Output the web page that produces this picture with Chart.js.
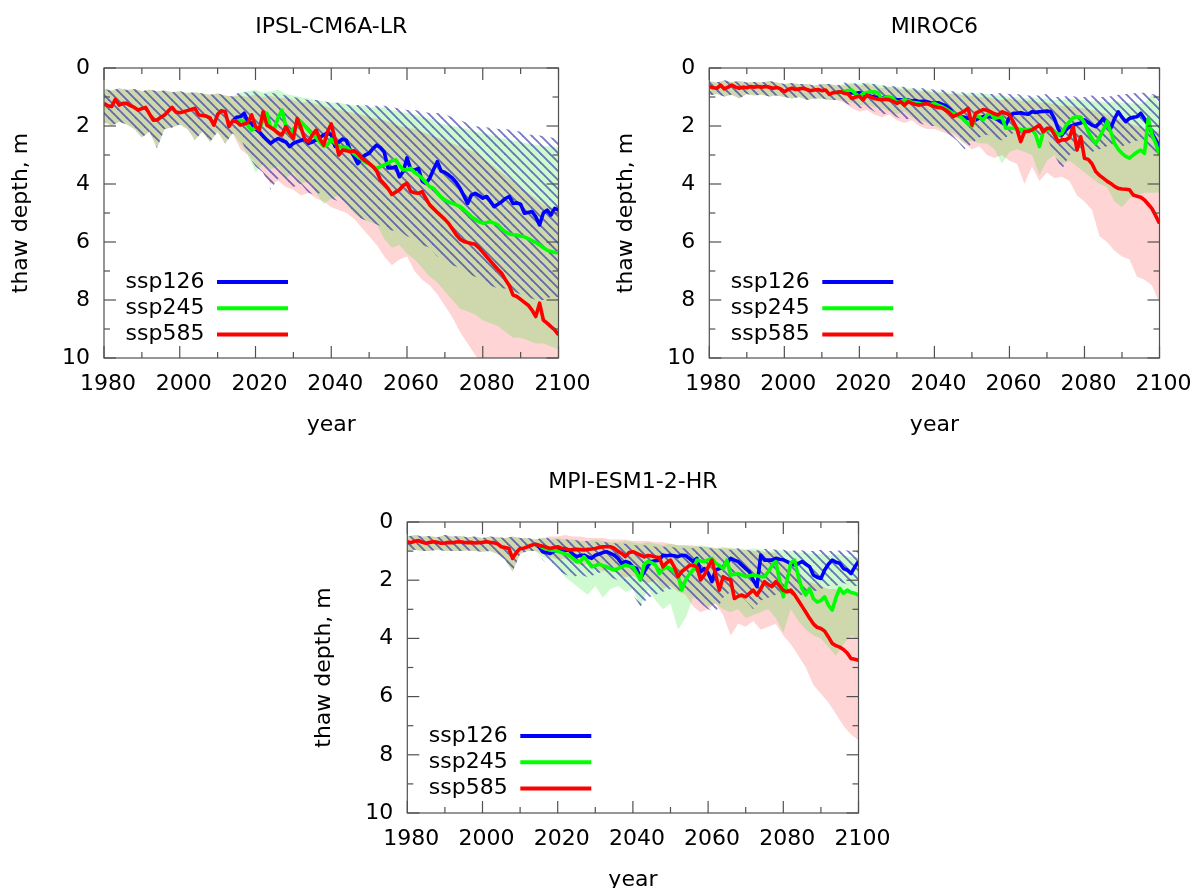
<!DOCTYPE html>
<html>
<head>
<meta charset="utf-8">
<title>thaw depth</title>
<script src="https://cdn.jsdelivr.net/npm/chart.js@4/dist/chart.umd.min.js"></script>
<style>
html, body { margin: 0; padding: 0; background: #fff; width: 1201px; height: 888px; overflow: hidden; }
canvas { position: absolute; }
</style>
</head>
<body>
<canvas id="c1" width="600" height="444" style="left:0px;top:0px"></canvas>
<canvas id="c2" width="601" height="444" style="left:600px;top:0px"></canvas>
<canvas id="c3" width="600" height="455" style="left:300px;top:444px"></canvas>
<script>
// ---- data (thaw depth, m) ----
var seriesNames = ['ssp126', 'ssp245', 'ssp585'];
var xTicks = [1980, 2000, 2020, 2040, 2060, 2080, 2100];
var yTicks = [0, 2, 4, 6, 8, 10];

// IPSL-CM6A-LR, yearly 1980..2100 (historical + ssp585)
var ipslRed = [
  1.22, 1.30, 1.33, 1.08, 1.28, 1.22, 1.22, 1.30, 1.36, 1.45,
  1.40, 1.36, 1.58, 1.80, 1.79, 1.70, 1.62, 1.48, 1.36, 1.52,
  1.54, 1.51, 1.47, 1.43, 1.39, 1.62, 1.64, 1.66, 1.72, 1.97,
  1.60, 1.47, 1.51, 2.02, 1.82, 1.85, 1.97, 1.93, 1.88, 1.62,
  2.02, 2.14, 1.51, 1.97, 2.05, 2.14, 2.25, 2.31, 2.02, 2.25,
  2.43, 1.74, 2.05, 2.45, 2.54, 2.31, 2.14, 2.45, 2.66, 2.20,
  1.93, 2.45, 3.00, 2.83, 2.85, 2.89, 2.85, 2.95, 3.10, 3.20,
  3.29, 3.40, 3.55, 3.86, 4.00, 4.15, 4.36, 4.28, 4.20, 4.05,
  3.98, 4.26, 4.30, 4.32, 4.26, 4.50, 4.72, 4.85, 4.98, 5.10,
  5.22, 5.36, 5.55, 5.75, 5.90, 5.98, 6.02, 6.05, 6.08, 6.20,
  6.35, 6.50, 6.65, 6.80, 6.95, 7.08, 7.30, 7.50, 7.83, 7.88,
  7.98, 8.08, 8.18, 8.35, 8.57, 8.11, 8.69, 8.80, 8.92, 9.03,
  9.20];
// yearly 2015..2100
var ipslBlue = [
  1.70, 1.68, 1.56, 1.85, 1.90,
  2.10, 2.20, 2.35, 2.48, 2.60, 2.50, 2.43, 2.50, 2.55, 2.71,
  2.60, 2.54, 2.50, 2.45, 2.60, 2.55, 2.48, 2.40, 2.31, 2.25,
  2.30, 2.70, 2.55, 2.45, 2.50, 2.83, 3.05, 3.30, 3.10, 3.00,
  2.94, 2.78, 2.66, 2.75, 2.90, 3.45, 3.45, 3.40, 3.75, 3.57,
  3.10, 3.50, 3.52, 3.46, 3.90, 3.98, 3.80, 3.50, 3.23, 3.55,
  3.60, 3.69, 3.80, 3.95, 4.15, 4.40, 4.67, 4.38, 4.32, 4.40,
  4.49, 4.43, 4.60, 4.78, 4.70, 4.61, 4.50, 4.43, 4.67, 4.65,
  4.70, 5.01, 4.98, 4.95, 5.13, 5.41, 5.00, 4.90, 5.07, 4.84,
  4.90];
var ipslGreen = [
  1.85, 1.80, 1.85, 2.00, 2.15,
  2.05, 2.10, 1.80, 1.56, 2.05, 2.10, 1.70, 1.45, 2.00, 2.30,
  2.10, 2.00, 1.85, 2.00, 2.15, 2.30, 2.40, 2.55, 2.70, 2.65,
  2.45, 2.60, 2.70, 2.75, 2.72, 2.85, 2.95, 3.06, 3.15, 3.25,
  3.30, 3.40, 3.46, 3.40, 3.34, 3.28, 3.20, 3.17, 3.35, 3.52,
  3.50, 3.46, 3.60, 3.69, 3.80, 3.95, 4.09, 4.15, 4.30, 4.45,
  4.55, 4.62, 4.67, 4.72, 4.78, 4.88, 5.00, 5.13, 5.22, 5.30,
  5.35, 5.33, 5.30, 5.35, 5.41, 5.55, 5.65, 5.72, 5.75, 5.76,
  5.80, 5.82, 5.88, 5.95, 6.02, 6.10, 6.20, 6.28, 6.33, 6.36,
  6.37];
// ranges, every 2 years: historical 1980..2014, scenarios 2016..2100
var ipslHistTop = [0.72, 0.78, 0.70, 0.76, 0.72, 0.80, 0.74, 0.80, 0.78, 0.84, 0.80, 0.86, 0.84, 0.88, 0.92, 0.88, 0.95, 0.98];
var ipslHistBot = [1.85, 2.00, 1.85, 1.95, 2.10, 2.40, 2.20, 2.77, 2.10, 2.05, 1.95, 2.10, 2.48, 2.20, 2.55, 2.20, 2.60, 2.25];
var ipsl585Top = [0.95, 1.00, 0.90, 1.00, 0.95, 1.05, 1.00, 1.10, 1.20, 1.15, 1.25, 1.30, 1.40, 1.45, 1.50, 1.55, 1.60,
  1.70, 1.75, 1.80, 1.90, 2.00, 2.05, 2.10, 2.20, 2.30, 2.40, 2.50, 2.60, 2.70, 2.80, 2.90,
  3.10, 3.30, 3.50, 3.70, 3.90, 4.10, 4.30, 4.50, 4.70, 4.80, 4.90];
var ipsl585Bot = [2.80, 3.00, 3.30, 3.60, 4.00, 3.90, 4.10, 4.20, 4.40, 4.30, 4.50, 4.60, 4.80, 4.90, 5.00, 5.20, 5.50,
  5.80, 6.10, 6.50, 6.80, 6.60, 6.50, 7.00, 7.30, 7.50, 7.80, 8.20, 8.60, 9.10, 9.50, 9.90,
  10.3, 10.5, 10.8, 11.0, 11.2, 11.4, 11.6, 11.8, 12.0, 12.0, 12.0];
var ipsl245Top = [0.85, 0.80, 0.75, 0.85, 0.80, 0.75, 0.90, 0.95, 1.00, 1.05, 1.10, 1.15, 1.20, 1.20, 1.25, 1.30, 1.30,
  1.35, 1.35, 1.35, 1.45, 1.50, 1.55, 1.60, 1.70, 1.75, 1.85, 1.95, 2.00, 2.05, 2.10, 2.20,
  2.25, 2.30, 2.40, 2.45, 2.50, 2.55, 2.60, 2.65, 2.70, 2.70, 2.75];
var ipsl245Bot = [2.60, 3.00, 3.60, 3.30, 3.50, 3.40, 3.80, 3.60, 4.00, 3.90, 4.30, 4.70, 4.50, 4.40, 4.70, 5.00, 5.20,
  5.30, 5.40, 5.90, 6.20, 6.10, 6.40, 6.60, 6.90, 7.20, 7.40, 7.70, 8.00, 8.30, 8.40, 8.50,
  8.70, 8.80, 8.90, 9.10, 9.30, 9.30, 9.40, 9.50, 9.50, 9.60, 9.70];
var ipsl126Top = [0.80, 0.85, 0.80, 0.90, 0.85, 0.90, 0.95, 1.00, 1.05, 1.10, 1.10, 1.15, 1.20, 1.20, 1.25, 1.30, 1.25,
  1.30, 1.30, 1.30, 1.35, 1.40, 1.45, 1.45, 1.50, 1.55, 1.55, 1.60, 1.70, 1.80, 1.90, 2.00,
  2.05, 2.05, 2.10, 2.10, 2.15, 2.20, 2.30, 2.30, 2.35, 2.40, 2.45];
var ipsl126Bot = [2.40, 3.00, 3.40, 3.60, 4.20, 3.80, 4.00, 4.10, 4.00, 4.30, 4.40, 4.20, 4.50, 4.60, 4.80, 5.00, 5.20,
  5.30, 5.40, 5.50, 5.60, 5.60, 5.80, 5.90, 6.10, 6.20, 6.50, 6.60, 6.80, 6.90, 7.10, 7.20,
  7.30, 7.50, 7.60, 7.60, 7.70, 7.80, 7.90, 8.00, 8.00, 7.90, 7.90];

// MIROC6
var mirocRed = [
  0.64, 0.68, 0.70, 0.59, 0.72, 0.66, 0.59, 0.66, 0.70, 0.66,
  0.68, 0.64, 0.66, 0.64, 0.66, 0.64, 0.66, 0.70, 0.67, 0.72,
  0.82, 0.74, 0.70, 0.74, 0.72, 0.70, 0.74, 0.78, 0.76, 0.74,
  0.78, 0.76, 0.91, 0.85, 0.84, 0.82, 0.87, 0.90, 1.05, 1.00,
  0.97, 1.10, 0.93, 1.00, 1.05, 1.08, 1.10, 1.08, 1.10, 1.15,
  1.22, 1.16, 1.28, 1.16, 1.22, 1.26, 1.28, 1.25, 1.22, 1.28,
  1.33, 1.36, 1.38, 1.45, 1.55, 1.68, 1.62, 1.56, 1.48, 1.39,
  1.97, 1.56, 1.50, 1.43, 1.46, 1.51, 1.58, 1.62, 1.51, 1.56,
  1.62, 1.85, 2.10, 2.54, 2.20, 2.18, 2.14, 2.05, 1.97, 2.20,
  2.08, 2.08, 2.30, 2.54, 2.48, 2.48, 2.40, 2.02, 2.83, 2.37,
  3.11, 3.15, 3.30, 3.57, 3.70, 3.80, 3.90, 3.98, 4.08, 4.15,
  4.17, 4.18, 4.20, 4.38, 4.42, 4.46, 4.55, 4.70, 4.85, 5.10,
  5.36];
var mirocBlue = [
  0.82, 0.85, 0.86, 0.85, 0.88,
  0.85, 0.92, 0.95, 0.97, 1.00, 1.02, 1.05, 1.00, 1.03, 1.08,
  1.10, 1.10, 1.12, 1.10, 1.14, 1.12, 1.16, 1.15, 1.16, 1.20,
  1.22, 1.20, 1.25, 1.30, 1.40, 1.56, 1.62, 1.68, 1.70, 1.74,
  1.77, 1.79, 1.72, 1.68, 1.66, 1.68, 1.72, 1.79, 1.88, 1.97,
  1.70, 1.56, 1.56, 1.54, 1.58, 1.59, 1.51, 1.53, 1.51, 1.50,
  1.48, 1.51, 1.75, 2.10, 2.31, 2.14, 2.02, 1.97, 1.93, 1.90,
  1.79, 1.88, 1.97, 2.02, 1.90, 1.74, 1.95, 2.08, 1.75, 1.51,
  1.70, 1.85, 1.74, 1.70, 1.68, 1.56, 1.75, 1.95, 2.25, 2.48,
  2.71];
var mirocGreen = [
  0.84, 0.80, 0.78, 0.76, 0.90,
  0.98, 0.88, 0.85, 0.83, 0.82, 0.85, 1.10, 1.00, 1.00, 1.05,
  1.20, 1.15, 1.10, 1.12, 1.18, 1.20, 1.22, 1.25, 1.24, 1.26,
  1.22, 1.28, 1.33, 1.40, 1.48, 1.56, 1.62, 1.68, 1.80, 1.92,
  2.02, 1.62, 1.70, 1.79, 1.62, 1.56, 1.74, 1.70, 1.68, 2.08,
  2.08, 2.08, 2.10, 2.12, 2.14, 2.12, 2.11, 2.30, 2.71, 2.20,
  2.14, 2.14, 2.20, 2.31, 2.25, 2.00, 1.85, 1.72, 1.68, 1.70,
  1.90, 2.20, 2.43, 2.60, 2.40, 2.14, 1.85, 2.20, 2.60, 2.80,
  2.94, 3.05, 3.11, 3.00, 2.90, 2.83, 2.94, 1.74, 2.30, 2.60,
  3.00];
var mirocHistTop = [0.45, 0.50, 0.42, 0.48, 0.45, 0.50, 0.48, 0.50, 0.45, 0.50, 0.55, 0.52, 0.55, 0.55, 0.60, 0.55, 0.55, 0.60];
var mirocHistBot = [0.95, 0.90, 0.98, 0.92, 1.05, 0.90, 0.95, 0.92, 0.98, 0.95, 1.00, 1.05, 1.00, 1.10, 1.05, 1.05, 1.10, 1.10];
var miroc585Top = [0.60, 0.55, 0.60, 0.55, 0.65, 0.70, 0.65, 0.70, 0.75, 0.75, 0.80, 0.80, 0.85, 0.85, 0.90, 0.90, 0.95,
  0.95, 1.00, 1.00, 1.05, 1.10, 1.05, 1.10, 1.15, 1.10, 1.20, 1.20, 1.25, 1.30, 1.30, 1.35,
  1.40, 1.45, 1.50, 1.60, 1.70, 1.80, 1.90, 2.00, 2.10, 2.15, 2.20];
var miroc585Bot = [1.20, 1.40, 1.50, 1.45, 1.60, 1.70, 1.60, 1.80, 1.90, 1.80, 2.00, 2.10, 2.10, 2.20, 2.30, 2.40, 2.60,
  2.80, 2.70, 3.00, 3.10, 3.00, 3.20, 3.30, 4.00, 3.40, 3.90, 3.60, 3.80, 3.75, 3.90, 4.40,
  4.60, 4.90, 5.80, 6.00, 6.30, 6.50, 6.60, 7.20, 7.30, 7.50, 8.10];
var miroc245Top = [0.55, 0.50, 0.55, 0.50, 0.55, 0.60, 0.65, 0.65, 0.70, 0.70, 0.75, 0.75, 0.80, 0.80, 0.85, 0.85, 0.90,
  0.85, 0.90, 0.90, 0.95, 0.95, 1.00, 1.00, 1.05, 1.00, 1.05, 1.05, 1.10, 1.10, 1.05, 1.10,
  1.10, 1.15, 1.15, 1.20, 1.15, 1.20, 1.20, 1.25, 1.20, 0.90, 1.25];
var miroc245Bot = [1.10, 1.20, 1.30, 1.25, 1.35, 1.40, 1.50, 1.60, 1.50, 1.70, 1.80, 1.90, 2.00, 2.10, 2.20, 2.30, 2.60,
  2.50, 2.60, 2.60, 2.80, 3.30, 2.90, 2.80, 2.90, 3.00, 3.70, 3.20, 3.00, 3.30, 3.20, 3.40,
  3.60, 3.80, 4.00, 4.10, 4.60, 4.80, 4.50, 4.40, 4.30, 4.30, 4.30];
var miroc126Top = [0.50, 0.55, 0.50, 0.55, 0.55, 0.60, 0.60, 0.65, 0.65, 0.70, 0.70, 0.70, 0.75, 0.75, 0.80, 0.80, 0.85,
  0.85, 0.85, 0.90, 0.90, 0.85, 0.90, 0.90, 0.95, 0.95, 0.95, 0.90, 1.00, 1.00, 0.95, 1.00,
  1.00, 0.95, 1.00, 1.00, 0.95, 0.90, 0.90, 0.85, 0.85, 0.90, 0.95];
var miroc126Bot = [1.20, 1.30, 1.40, 1.35, 1.50, 1.60, 1.55, 1.70, 1.80, 1.70, 1.90, 2.00, 2.00, 2.10, 2.30, 2.50, 2.80,
  2.60, 2.40, 2.30, 2.40, 2.50, 2.30, 2.20, 2.30, 2.20, 2.30, 2.40, 3.00, 3.50, 3.00, 2.80,
  2.70, 2.90, 2.80, 2.70, 2.60, 2.70, 2.60, 2.50, 2.60, 2.80, 3.00];

// MPI-ESM1-2-HR
var mpiRed = [
  0.68, 0.71, 0.66, 0.64, 0.70, 0.73, 0.70, 0.68, 0.70, 0.73,
  0.72, 0.70, 0.71, 0.69, 0.68, 0.70, 0.71, 0.70, 0.72, 0.71,
  0.70, 0.68, 0.70, 0.71, 0.75, 0.85, 0.88, 0.91, 1.25, 1.05,
  0.91, 0.90, 0.85, 0.80, 0.76, 0.80, 0.83, 0.87, 0.91, 0.88,
  0.85, 0.90, 0.91, 0.96, 0.95, 0.94, 0.95, 0.96, 0.94, 0.93,
  0.91, 0.88, 0.85, 0.85, 0.85, 0.90, 1.00, 1.08, 1.19, 1.05,
  1.02, 1.08, 1.14, 1.20, 1.15, 1.17, 1.20, 1.22, 1.54, 1.40,
  1.31, 1.54, 1.88, 1.70, 1.60, 1.50, 1.48, 1.54, 1.99, 1.82,
  1.55, 1.31, 1.80, 2.34, 1.88, 1.95, 1.99, 2.63, 2.55, 2.51,
  2.57, 2.45, 2.34, 2.51, 2.30, 2.05, 2.15, 2.22, 2.05, 2.20,
  2.35, 2.40, 2.34, 2.50, 2.70, 2.90, 3.10, 3.31, 3.50, 3.62,
  3.66, 3.75, 3.95, 4.17, 4.25, 4.30, 4.38, 4.50, 4.69, 4.72,
  4.75];
var mpiBlue = [
  0.85, 1.02, 1.05, 1.08, 1.00,
  0.96, 1.00, 0.98, 0.96, 1.10, 1.19, 1.15, 1.14, 1.20, 1.25,
  1.14, 1.10, 1.05, 1.02, 1.08, 1.14, 1.25, 1.42, 1.36, 1.40,
  1.54, 1.60, 1.94, 1.71, 1.50, 1.36, 1.33, 1.31, 1.14, 1.16,
  1.14, 1.16, 1.19, 1.14, 1.15, 1.25, 1.36, 1.25, 1.71, 1.60,
  1.75, 2.05, 1.65, 1.60, 1.54, 1.40, 1.25, 1.31, 1.36, 1.48,
  1.60, 1.71, 2.00, 2.22, 1.14, 1.31, 1.31, 1.31, 1.25, 1.28,
  1.30, 1.36, 1.42, 1.48, 1.42, 1.36, 1.45, 1.54, 1.82, 1.90,
  1.94, 1.65, 1.45, 1.31, 1.38, 1.42, 1.60, 1.65, 1.77, 1.55,
  1.36];
var mpiGreen = [
  0.80, 0.88, 0.92, 0.96, 0.98,
  1.00, 1.05, 1.10, 1.14, 1.25, 1.36, 1.36, 1.19, 1.36, 1.54,
  1.50, 1.45, 1.50, 1.54, 1.60, 1.65, 1.60, 1.54, 1.48, 1.52,
  1.54, 1.75, 2.00, 1.45, 1.36, 1.40, 1.48, 1.77, 1.62, 1.54,
  1.60, 1.70, 1.82, 2.34, 2.00, 1.80, 1.65, 1.31, 1.34, 1.36,
  1.30, 1.25, 1.42, 1.50, 1.60, 1.31, 1.82, 1.80, 1.78, 1.82,
  1.88, 1.85, 1.82, 1.85, 1.88, 1.88, 1.71, 1.50, 1.36, 2.00,
  2.57, 2.00, 1.40, 1.31, 1.88, 2.30, 2.51, 2.28, 2.63, 2.75,
  2.70, 2.57, 2.86, 3.03, 2.60, 2.28, 2.45, 2.34, 2.42, 2.45,
  2.51];
var mpiHistTop = [0.50, 0.45, 0.50, 0.48, 0.52, 0.45, 0.50, 0.48, 0.52, 0.50, 0.55, 0.50, 0.52, 0.55, 0.50, 0.55, 0.55, 0.60];
var mpiHistBot = [1.00, 0.95, 1.00, 1.00, 0.95, 1.00, 1.00, 1.00, 0.98, 1.00, 1.02, 1.00, 1.10, 1.30, 1.70, 1.10, 1.00, 1.00];
var mpi585Top = [0.55, 0.50, 0.50, 0.45, 0.50, 0.50, 0.55, 0.55, 0.55, 0.60, 0.60, 0.60, 0.65, 0.65, 0.65, 0.70, 0.70,
  0.75, 0.80, 0.80, 0.80, 0.85, 0.85, 0.90, 0.90, 0.90, 0.95, 0.95, 1.00, 1.00, 1.05, 1.05,
  1.30, 1.50, 1.80, 2.00, 2.10, 2.20, 2.30, 2.30, 2.40, 2.40, 2.50];
var mpi585Bot = [1.10, 1.20, 1.30, 1.25, 1.40, 1.50, 1.45, 1.60, 1.70, 1.60, 1.80, 1.90, 1.85, 2.00, 2.10, 2.00, 2.30,
  2.20, 2.40, 2.50, 2.90, 3.10, 3.00, 2.80, 3.20, 3.90, 3.50, 3.60, 3.40, 3.70, 3.60, 3.50,
  3.90, 4.20, 4.60, 5.00, 5.60, 5.90, 6.20, 6.60, 7.00, 7.30, 7.50];
var mpi245Top = [0.55, 0.60, 0.55, 0.60, 0.60, 0.65, 0.65, 0.60, 0.65, 0.70, 0.70, 0.65, 0.70, 0.75, 0.70, 0.75, 0.80,
  0.75, 0.80, 0.80, 0.85, 0.80, 0.85, 0.90, 0.85, 0.90, 0.90, 0.95, 0.90, 0.95, 1.00, 0.95,
  1.00, 1.00, 1.05, 1.05, 1.10, 1.10, 1.15, 1.10, 1.15, 1.20, 1.20];
var mpi245Bot = [1.20, 1.30, 1.50, 1.90, 2.10, 2.30, 2.50, 2.20, 2.60, 2.30, 2.20, 2.40, 2.30, 2.90, 2.30, 2.70, 3.00,
  2.80, 3.70, 3.30, 2.60, 2.70, 2.90, 2.80, 3.00, 3.10, 3.00, 3.30, 3.20, 3.10, 3.00, 3.30,
  3.80, 3.00, 3.40, 3.70, 3.90, 4.00, 4.30, 4.60, 4.20, 3.90, 4.00];
var mpi126Top = [0.55, 0.55, 0.60, 0.60, 0.60, 0.65, 0.65, 0.70, 0.70, 0.70, 0.75, 0.75, 0.80, 0.80, 0.80, 0.85, 0.85,
  0.85, 0.90, 0.90, 0.90, 0.85, 0.90, 0.90, 0.95, 0.95, 0.90, 0.95, 1.00, 0.95, 0.90, 0.95,
  0.95, 1.00, 0.95, 1.00, 1.00, 0.95, 1.00, 1.00, 0.95, 1.00, 1.00];
var mpi126Bot = [1.30, 1.50, 1.70, 1.80, 1.90, 1.80, 1.90, 1.80, 1.70, 1.90, 2.00, 2.20, 2.50, 2.90, 2.60, 2.50, 2.40,
  2.30, 2.40, 2.30, 2.60, 2.80, 3.00, 3.10, 2.60, 2.40, 2.50, 2.70, 3.00, 2.70, 2.60, 2.50,
  2.40, 2.50, 2.60, 2.40, 2.40, 2.30, 2.20, 2.20, 2.10, 2.20, 2.20];

// ---- helpers ----
var FONT = 'DejaVu Sans';
function range(a, b, step) { var r = []; for (var v = a; v <= b; v += step) r.push(v); return r; }
var yearsAll = range(1980, 2100, 1);
var yearsScen = range(2014, 2100, 1);
var yearsBand = range(1980, 2100, 2);
function pts(xs, ys) { return ys.map(function (v, i) { return { x: xs[i], y: v }; }); }

var lineColors = ['#0000ff', '#00ff00', '#ff0000'];

function hatchPattern() {
  var t = document.createElement('canvas');
  t.width = 9; t.height = 9;
  var c = t.getContext('2d');
  c.strokeStyle = 'rgba(20,30,160,0.6)';
  c.lineWidth = 1.8;
  for (var k = -1; k <= 1; k++) {
    c.beginPath();
    c.moveTo(-2, -2 + 9 * k);
    c.lineTo(11, 11 + 9 * k);
    c.stroke();
  }
  return document.getElementById('c1').getContext('2d').createPattern(t, 'repeat');
}

function edge(data, order) {
  return { data: data, borderWidth: 0, borderColor: 'rgba(0,0,0,0)', pointRadius: 0, fill: false, order: order };
}
function band(data, order, bg) {
  return { data: data, borderWidth: 0, borderColor: 'rgba(0,0,0,0)', pointRadius: 0, fill: '-1', backgroundColor: bg, order: order };
}
function line(label, data, color, order) {
  return { label: label, data: data, borderColor: color, borderWidth: 3.6, pointRadius: 0, fill: false,
    tension: 0, borderJoinStyle: 'round', order: order };
}

var framePlugin = {
  id: 'frame',
  afterDatasetsDraw: function (chart) {
    var a = chart.chartArea, ctx = chart.ctx, xs = chart.scales.x, ys = chart.scales.y;
    ctx.save();
    ctx.strokeStyle = '#505050';
    ctx.lineWidth = 1.2;
    function seg(x1, y1, x2, y2) { ctx.beginPath(); ctx.moveTo(x1, y1); ctx.lineTo(x2, y2); ctx.stroke(); }
    for (var yr = 1980; yr <= 2100; yr += 10) {
      var len = (yr % 20 === 0) ? 12 : 6, px = xs.getPixelForValue(yr);
      seg(px, a.bottom, px, a.bottom - len);
      seg(px, a.top, px, a.top + len);
    }
    for (var d = 0; d <= 10; d++) {
      var l2 = (d % 2 === 0) ? 12 : 6, py = ys.getPixelForValue(d);
      seg(a.left, py, a.left + l2, py);
      seg(a.right, py, a.right - l2, py);
    }
    ctx.strokeRect(a.left, a.top, a.right - a.left, a.bottom - a.top);
    ctx.restore();
  }
};

// legend inside the plot (text, then a line sample) and the panel heading
var keyPlugin = {
  id: 'key',
  afterDraw: function (chart, args, opts) {
    var a = chart.chartArea, ctx = chart.ctx;
    ctx.save();
    ctx.font = '22px "' + FONT + '"';
    ctx.fillStyle = '#000';
    ctx.textBaseline = 'middle';
    ctx.textAlign = 'center';
    ctx.fillText(opts.heading, (a.left + a.right) / 2, a.top - opts.headingGap);
    ctx.textAlign = 'left';
    for (var i = 0; i < seriesNames.length; i++) {
      var y = a.top + 214 + i * 26.3;
      ctx.fillText(seriesNames[i], a.left + 21.5, y);
      ctx.strokeStyle = lineColors[i];
      ctx.lineWidth = 4;
      ctx.beginPath();
      ctx.moveTo(a.left + 113, y);
      ctx.lineTo(a.left + 184, y);
      ctx.stroke();
    }
    ctx.restore();
  }
};

function makeChart(p) {
  var hatch = hatchPattern();
  var blueData = pts(yearsScen, [p.red[34]].concat(p.blue));
  var greenData = pts(yearsScen, [p.red[34]].concat(p.green));
  var datasets = [
    edge(pts(yearsBand, p.histBot.concat(p.bot585)), 10),
    band(pts(yearsBand, p.histTop.concat(p.top585)), 10, 'rgba(255,0,0,0.17)'),
    edge(pts(yearsBand, p.histBot.concat(p.bot245)), 9),
    band(pts(yearsBand, p.histTop.concat(p.top245)), 9, 'rgba(0,230,0,0.19)'),
    edge(pts(yearsBand, p.histBot.concat(p.bot126)), 8),
    band(pts(yearsBand, p.histTop.concat(p.top126)), 8, hatch),
    line(seriesNames[0], blueData, lineColors[0], 3),
    line(seriesNames[1], greenData, lineColors[1], 2),
    line(seriesNames[2], pts(yearsAll, p.red), lineColors[2], 1)
  ];
  var tickFont = { family: FONT, size: 22 };
  return new Chart(document.getElementById(p.id), {
    type: 'line',
    data: { datasets: datasets },
    options: {
      responsive: false,
      animation: false,
      events: [],
      layout: { padding: { left: p.padLeft, right: p.padRight, top: p.padTop, bottom: 0 } },
      plugins: {
        legend: { display: false },
        tooltip: { enabled: false },
        title: { display: false },
        key: { heading: p.title, headingGap: p.headingGap }
      },
      scales: {
        x: {
          type: 'linear', min: 1980, max: 2100,
          afterBuildTicks: function (s) { s.ticks = xTicks.map(function (v) { return { value: v }; }); },
          ticks: { color: '#000', font: tickFont, padding: 13.5, labelOffset: 4, maxRotation: 0, autoSkip: false,
            callback: function (v) { return String(v); } },
          grid: { display: false, drawTicks: false },
          border: { display: false },
          title: { display: true, text: 'year', color: '#000', font: tickFont, padding: { top: 0, bottom: 6 } },
          afterFit: function (s) { s.height = 86; }
        },
        y: {
          type: 'linear', min: 0, max: 10, reverse: true,
          afterBuildTicks: function (s) { s.ticks = yTicks.map(function (v) { return { value: v }; }); },
          ticks: { color: '#000', font: tickFont, padding: 14, callback: function (v) { return String(v); } },
          grid: { display: false, drawTicks: false },
          border: { display: false },
          title: { display: true, text: 'thaw depth, m', color: '#000', font: tickFont, padding: { top: 0, bottom: 0 } },
          afterFit: function (s) { s.width = 96; }
        }
      }
    },
    plugins: [framePlugin, keyPlugin]
  });
}

makeChart({ id: 'c1', title: 'IPSL-CM6A-LR', red: ipslRed, blue: ipslBlue, green: ipslGreen,
  histTop: ipslHistTop, histBot: ipslHistBot,
  top585: ipsl585Top, bot585: ipsl585Bot, top245: ipsl245Top, bot245: ipsl245Bot, top126: ipsl126Top, bot126: ipsl126Bot,
  padLeft: 8, padRight: 36, padTop: 68, headingGap: 41 });
makeChart({ id: 'c2', title: 'MIROC6', red: mirocRed, blue: mirocBlue, green: mirocGreen,
  histTop: mirocHistTop, histBot: mirocHistBot,
  top585: miroc585Top, bot585: miroc585Bot, top245: miroc245Top, bot245: miroc245Bot, top126: miroc126Top, bot126: miroc126Bot,
  padLeft: 13.3, padRight: 32.3, padTop: 68, headingGap: 41 });
makeChart({ id: 'c3', title: 'MPI-ESM1-2-HR', red: mpiRed, blue: mpiBlue, green: mpiGreen,
  histTop: mpiHistTop, histBot: mpiHistBot,
  top585: mpi585Top, bot585: mpi585Bot, top245: mpi245Top, bot245: mpi245Bot, top126: mpi126Top, bot126: mpi126Bot,
  padLeft: 11.3, padRight: 33, padTop: 78, headingGap: 40 });
</script>
</body>
</html>
